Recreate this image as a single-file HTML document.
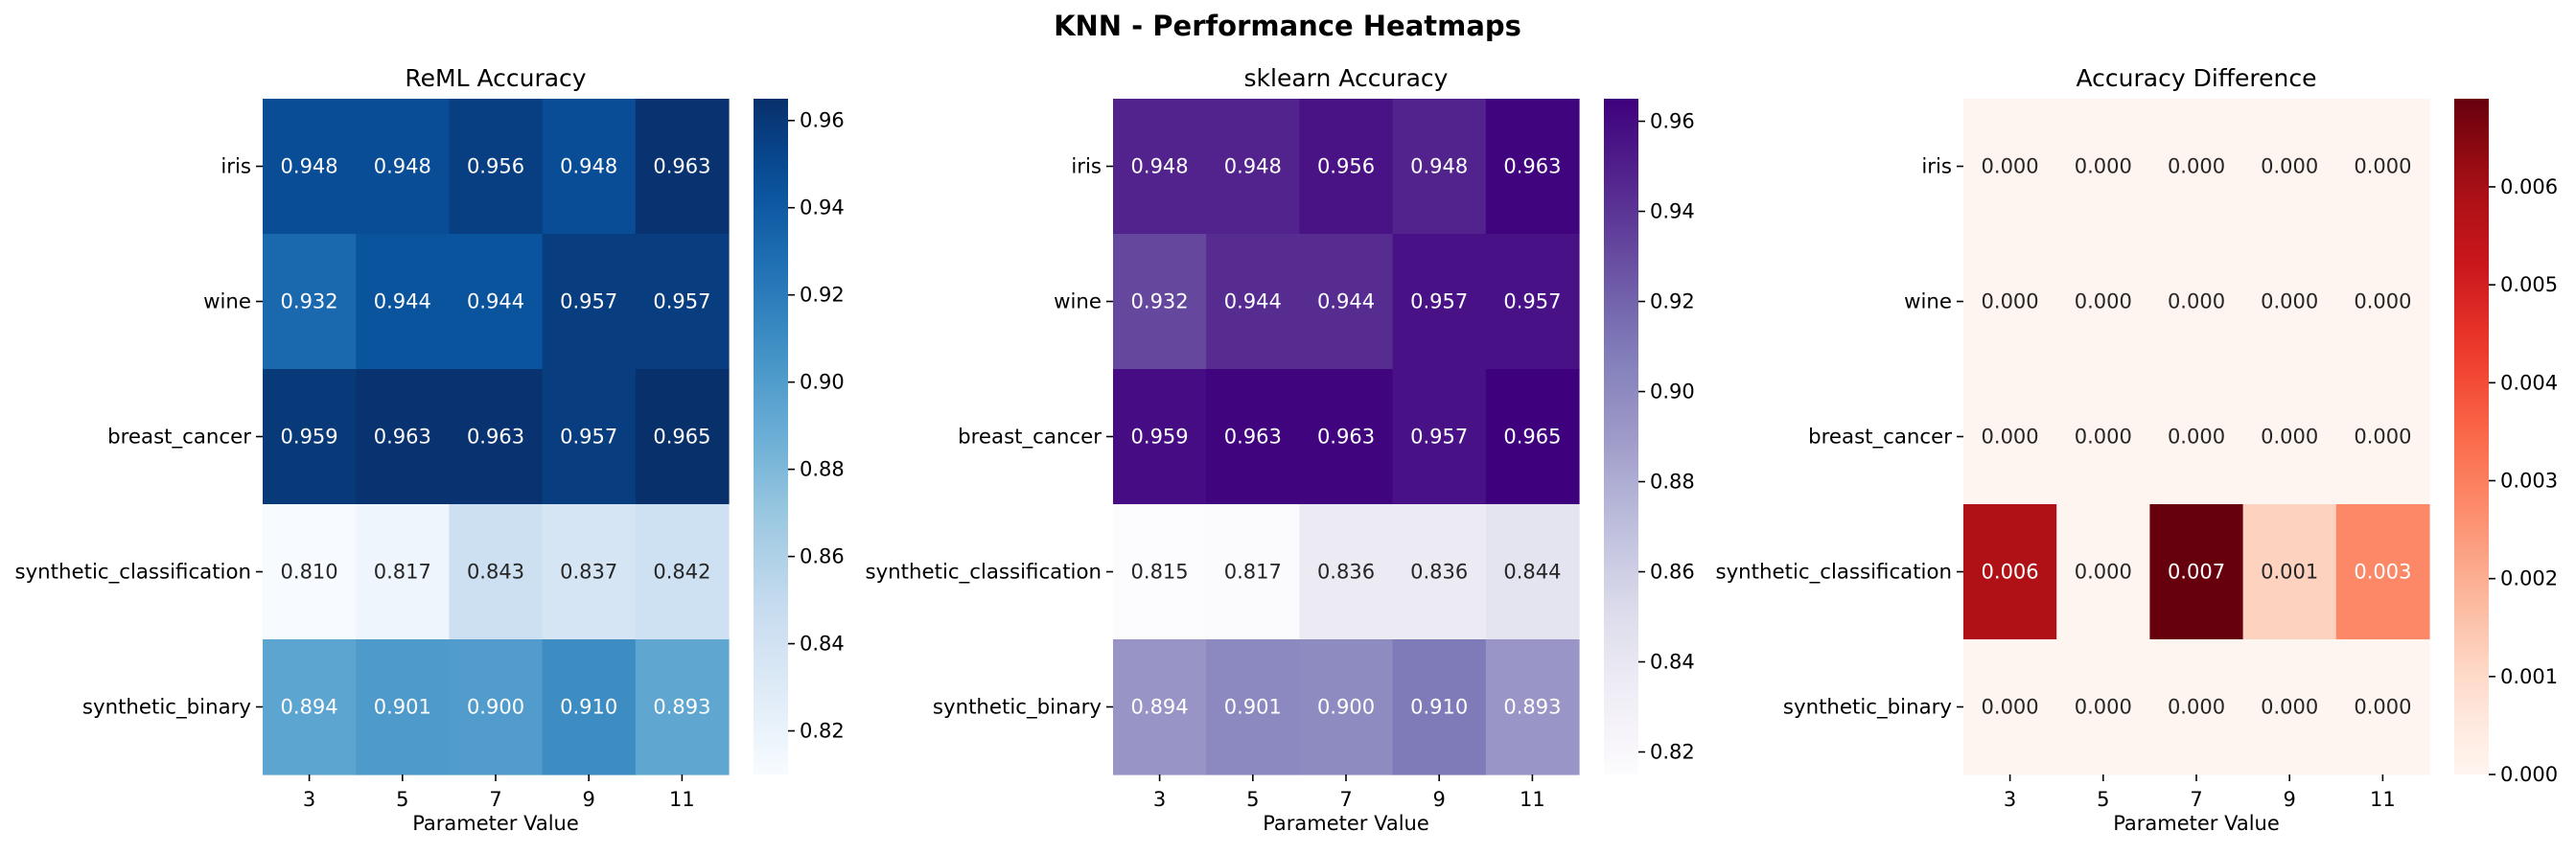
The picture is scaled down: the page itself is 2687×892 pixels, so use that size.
<!DOCTYPE html>
<html><head><meta charset="utf-8"><style>
body{margin:0;background:#fff;}
svg text{font-family:"DejaVu Sans","Liberation Sans",sans-serif;}
</style></head><body>
<svg id="fig" width="2687" height="887" viewBox="0 0 2687 887" xmlns="http://www.w3.org/2000/svg">
<text x="1343" y="37" text-anchor="middle" font-size="29" font-weight="bold">KNN - Performance Heatmaps</text>
</svg>
<script>
const datasets = ["iris","wine","breast_cancer","synthetic_classification","synthetic_binary"];
const params = ["3","5","7","9","11"];
const remlAcc = [
 [0.948,0.948,0.956,0.948,0.963],
 [0.932,0.944,0.944,0.957,0.957],
 [0.959,0.963,0.963,0.957,0.965],
 [0.810,0.817,0.843,0.837,0.842],
 [0.894,0.901,0.900,0.910,0.893]];
const sklearnAcc = [
 [0.948,0.948,0.956,0.948,0.963],
 [0.932,0.944,0.944,0.957,0.957],
 [0.959,0.963,0.963,0.957,0.965],
 [0.815,0.817,0.836,0.836,0.844],
 [0.894,0.901,0.900,0.910,0.893]];
const accDiff = [
 [0,0,0,0,0],
 [0,0,0,0,0],
 [0,0,0,0,0],
 [0.0058,0,0.0069,0.0012,0.0028],
 [0,0,0,0,0]];
const accTicks = [0.82,0.84,0.86,0.88,0.90,0.92,0.94,0.96];
const diffTicks = [0,0.001,0.002,0.003,0.004,0.005,0.006];

const BLUES=["#f7fbff","#deebf7","#c6dbef","#9ecae1","#6baed6","#4292c6","#2171b5","#08519c","#08306b"];
const PURPLES=["#fcfbfd","#efedf5","#dadaeb","#bcbddc","#9e9ac8","#807dba","#6a51a3","#54278f","#3f007d"];
const REDS=["#fff5f0","#fee0d2","#fcbba1","#fc9272","#fb6a4a","#ef3b2c","#cb181d","#a50f15","#67000d"];
function hex(h){return [1,3,5].map(i=>parseInt(h.substr(i,2),16));}
function cmap(stops,t){t=Math.max(0,Math.min(1,t));const p=t*(stops.length-1);const i=Math.min(Math.floor(p),stops.length-2);const f=p-i;const a=hex(stops[i]),b=hex(stops[i+1]);return a.map((v,k)=>Math.round(v+(b[k]-v)*f));}
function lum(c){const l=c.map(v=>{v/=255;return v<=0.03928?v/12.92:Math.pow((v+0.055)/1.055,2.4);});return 0.2126*l[0]+0.7152*l[1]+0.0722*l[2];}
const NS="http://www.w3.org/2000/svg";
const svg=document.getElementById('fig');
function mk(tag,attrs,parent){const e=document.createElementNS(NS,tag);for(const k in attrs)e.setAttribute(k,attrs[k]);(parent||svg).appendChild(e);return e;}

const top0=103, H=705, W=486;
function panel(x0,title,data,stops,vmin,vmax,ticks,fmtTick,nameKey){
  const g=mk('g',{});
  
  
  const cw=W/params.length, ch=H/datasets.length;
  const xs=j=>x0+j*cw, ys=i=>top0+i*ch;
  const t=mk('text',{x:x0+W/2,y:90,'text-anchor':'middle','font-size':25},g);t.textContent=title;
  
  
  data.forEach((row,i)=>row.forEach((v,j)=>{
    const c=cmap(stops,(v-vmin)/(vmax-vmin));
    const r=mk('rect',{x:xs(j),y:ys(i),width:cw+0.6,height:ch+0.6,fill:`rgb(${c})`},g);
    
    
    const tx=mk('text',{x:xs(j)+cw/2,y:ys(i)+ch/2+7,'text-anchor':'middle','font-size':21,fill:lum(c)<0.408?'#fff':'#262626'},g);
    tx.textContent=v.toFixed(3);
    
    
  }));
  datasets.forEach((d,i)=>{
    const y=ys(i)+ch/2;
    mk('line',{x1:x0-7,x2:x0,y1:y,y2:y,stroke:'#000','stroke-width':1.6},g);
    const l=mk('text',{x:x0-12,y:y+7,'text-anchor':'end','font-size':21.3},g);l.textContent=d;
    
    
  });
  params.forEach((p,j)=>{
    const x=xs(j)+cw/2;
    mk('line',{x1:x,x2:x,y1:top0+H,y2:top0+H+7,stroke:'#000','stroke-width':1.6},g);
    const l=mk('text',{x:x,y:top0+H+33,'text-anchor':'middle','font-size':21},g);l.textContent=p;
    
    
  });
  const xl=mk('text',{x:x0+W/2,y:top0+H+58,'text-anchor':'middle','font-size':21},g);xl.textContent='Parameter Value';
  
  
  const cx=x0+W+26, cbw=36, id='grad-'+nameKey;
  const lg=mk('linearGradient',{id:id,x1:0,y1:1,x2:0,y2:0},mk('defs',{},g));
  for(let k=0;k<=20;k++){const c=cmap(stops,k/20);mk('stop',{offset:k/20,'stop-color':`rgb(${c})`},lg);}
  const cb=mk('rect',{x:cx,y:top0,width:cbw,height:H,fill:`url(#${id})`},g);
  
  
  const cy=v=>top0+H-(v-vmin)/(vmax-vmin)*H;
  ticks.forEach(v=>{
    const y=cy(v);
    mk('line',{x1:cx+cbw,x2:cx+cbw+7,y1:y,y2:y,stroke:'#000','stroke-width':1.6},g);
    const l=mk('text',{x:cx+cbw+12,y:y+7,'font-size':21},g);l.textContent=fmtTick(v);
    
    
  });
}
panel(274,'ReML Accuracy',remlAcc,BLUES,0.810,0.965,accTicks,v=>v.toFixed(2),'reml');
panel(1161,'sklearn Accuracy',sklearnAcc,PURPLES,0.815,0.965,accTicks,v=>v.toFixed(2),'sklearn');
panel(2048,'Accuracy Difference',accDiff,REDS,0,0.0069,diffTicks,v=>v.toFixed(3),'diff');
</script>
</body></html>
